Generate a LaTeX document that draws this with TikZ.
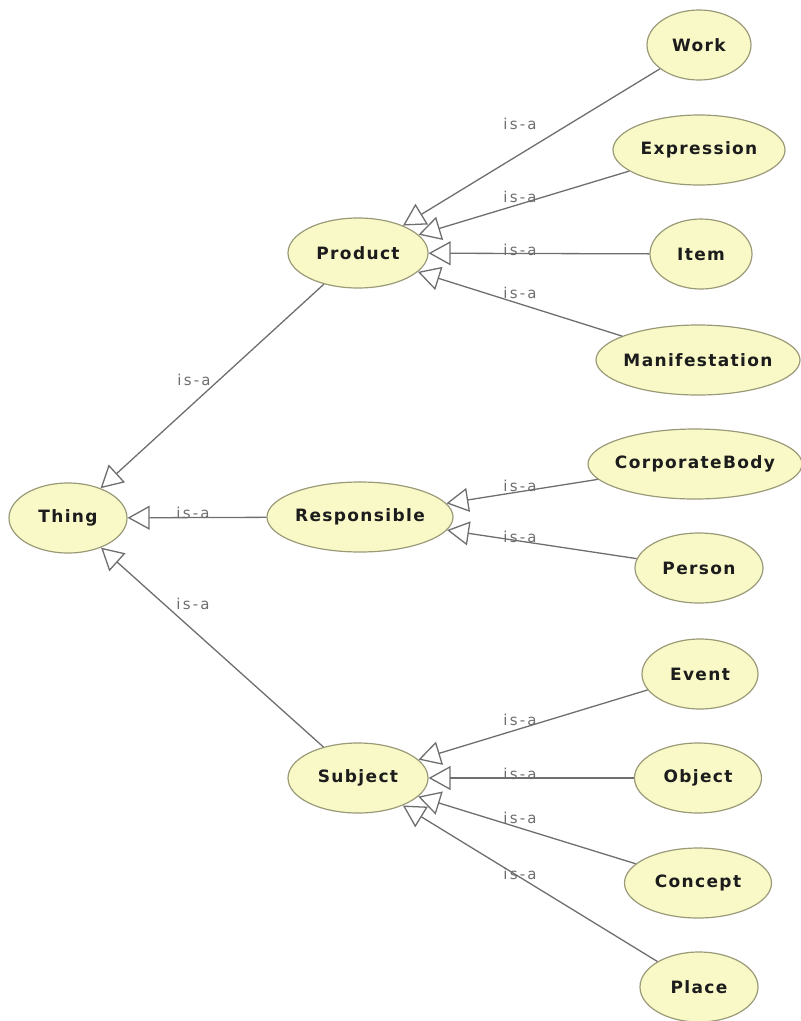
\documentclass[tikz,border=0pt]{standalone}
\usepackage{fontspec}
\setmainfont{DejaVu Sans}
\newfontfamily\clsfont[LetterSpace=8]{DejaVu Sans}
\newfontfamily\isafont[LetterSpace=15]{DejaVu Sans}
\usetikzlibrary{arrows.meta,shapes.geometric}
\definecolor{onfill}{HTML}{F9F9C8}
\definecolor{online}{HTML}{9A9A78}
\definecolor{onedge}{HTML}{6E6E6E}
\definecolor{ontext}{HTML}{1C1C1C}

\tikzset{
  cls/.style={ellipse,draw=online,fill=onfill,line width=1.2pt,
              minimum height=70pt,inner xsep=-10pt,inner ysep=0pt,
              text=ontext,font=\clsfont\bfseries\fontsize{17}{17}\selectfont},
  isa/.style={inner sep=0pt,text=onedge,font=\isafont\fontsize{15}{15}\selectfont},
  isarrow/.style={draw=onedge,line width=1.3pt,
                  -{Triangle[length=22pt,width=24pt,fill=white]}}
}

\begin{document}
\begin{tikzpicture}[x=1pt,y=-1pt]
\useasboundingbox (0,0) rectangle (801,1021);
\node[cls,minimum width=118pt] (thing) at (68,518) {Thing};
\node[cls,minimum width=140pt] (product) at (358,253) {Product};
\node[cls,minimum width=186pt] (responsible) at (360,517) {Responsible};
\node[cls,minimum width=140pt] (subject) at (358,778) {Subject};
\node[cls,minimum width=104pt] (work) at (699,45) {Work};
\node[cls,minimum width=172pt] (expression) at (699,150) {Expression};
\node[cls,minimum width=102pt] (item) at (701,254) {Item};
\node[cls,minimum width=204pt] (manifestation) at (698,360) {Manifestation};
\node[cls,minimum width=214pt] (corporatebody) at (695,464) {CorporateBody};
\node[cls,minimum width=128pt] (person) at (699,568) {Person};
\node[cls,minimum width=116pt] (event) at (700,674) {Event};
\node[cls,minimum width=127pt] (object) at (698,778) {Object};
\node[cls,minimum width=147pt] (concept) at (698,883) {Concept};
\node[cls,minimum width=118pt] (place) at (699,987) {Place};

\foreach \c/\p in {product/thing,responsible/thing,subject/thing,
                   work/product,expression/product,item/product,manifestation/product,
                   corporatebody/responsible,person/responsible,
                   event/subject,object/subject,concept/subject,place/subject}
  \draw[isarrow] (\c) -- (\p);

\foreach \n/\x/\y in {product/194/380,responsible/193/513,subject/193/604,
                      work/520/124,expression/520/197,item/520/250,manifestation/520/293,
                      corporatebody/520/486,person/520/537,
                      event/520/720,object/520/774,concept/520/818,place/520/874}
  \node[isa] (isa-\n) at (\x,\y) {is-a};
\end{tikzpicture}
\end{document}
